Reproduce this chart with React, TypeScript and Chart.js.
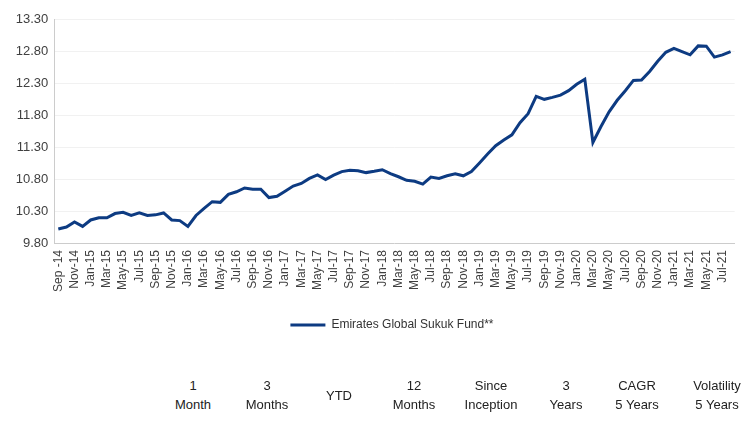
import React, { useEffect, useRef } from 'react';
import { Chart, registerables } from 'chart.js';

Chart.register(...registerables);

const months: string[] = [
  'Sep -14', 'Oct-14', 'Nov-14', 'Dec-14',
  'Jan-15', 'Feb-15', 'Mar-15', 'Apr-15', 'May-15', 'Jun-15', 'Jul-15', 'Aug-15', 'Sep-15', 'Oct-15', 'Nov-15', 'Dec-15',
  'Jan-16', 'Feb-16', 'Mar-16', 'Apr-16', 'May-16', 'Jun-16', 'Jul-16', 'Aug-16', 'Sep-16', 'Oct-16', 'Nov-16', 'Dec-16',
  'Jan-17', 'Feb-17', 'Mar-17', 'Apr-17', 'May-17', 'Jun-17', 'Jul-17', 'Aug-17', 'Sep-17', 'Oct-17', 'Nov-17', 'Dec-17',
  'Jan-18', 'Feb-18', 'Mar-18', 'Apr-18', 'May-18', 'Jun-18', 'Jul-18', 'Aug-18', 'Sep-18', 'Oct-18', 'Nov-18', 'Dec-18',
  'Jan-19', 'Feb-19', 'Mar-19', 'Apr-19', 'May-19', 'Jun-19', 'Jul-19', 'Aug-19', 'Sep-19', 'Oct-19', 'Nov-19', 'Dec-19',
  'Jan-20', 'Feb-20', 'Mar-20', 'Apr-20', 'May-20', 'Jun-20', 'Jul-20', 'Aug-20', 'Sep-20', 'Oct-20', 'Nov-20', 'Dec-20',
  'Jan-21', 'Feb-21', 'Mar-21', 'Apr-21', 'May-21', 'Jun-21', 'Jul-21', 'Aug-21',
];

const fundValues: number[] = [
  10.02, 10.05, 10.13, 10.06,
  10.16, 10.195, 10.195, 10.26, 10.28, 10.23, 10.27, 10.23, 10.24, 10.27, 10.16, 10.15,
  10.06, 10.23, 10.34, 10.445, 10.435, 10.56, 10.6, 10.66, 10.64, 10.64, 10.51, 10.53,
  10.61, 10.69, 10.73, 10.81, 10.865, 10.79, 10.86, 10.915, 10.935, 10.93, 10.9, 10.92,
  10.945, 10.885, 10.835, 10.78, 10.765, 10.72, 10.83, 10.81, 10.85, 10.88, 10.85, 10.915,
  11.05, 11.19, 11.32, 11.41, 11.49, 11.68, 11.82, 12.09, 12.045, 12.075, 12.11, 12.18,
  12.28, 12.36, 11.37, 11.62, 11.85, 12.03, 12.18, 12.34, 12.345, 12.48, 12.64, 12.78,
  12.84, 12.79, 12.74, 12.88, 12.875, 12.705, 12.74, 12.79,
];

const seriesName = 'Emirates Global Sukuk Fund**';

const yMin = 9.8;
const yMax = 13.3;
const yStep = 0.5;

const tableHeaders: string[][] = [
  ['1', 'Month'],
  ['3', 'Months'],
  ['YTD'],
  ['12', 'Months'],
  ['Since', 'Inception'],
  ['3', 'Years'],
  ['CAGR', '5 Years'],
  ['Volatility', '5 Years'],
];

const colCenters = [193, 267, 339, 414, 491, 566, 637, 717];

const LINE = '#0d3b82';
const FONT = '"Liberation Sans", Arial, Helvetica, sans-serif';

// shift the legend so it is centred under the plot area, as in the reference
const legendShift = {
  id: 'legendShift',
  afterLayout(chart: any) {
    const lg = chart.legend;
    if (!lg) return;
    const area = chart.chartArea;
    const full = (lg.left + lg.right) / 2;
    const target = (area.left + area.right) / 2 - 2.5;
    const dx = target - full;
    lg.left += dx;
    lg.right += dx;
  },
};

export default function App() {
  const ref = useRef<HTMLCanvasElement>(null);

  useEffect(() => {
    const canvas = ref.current;
    if (!canvas) return;
    Chart.defaults.font.family = FONT;
    const chart = new Chart(canvas, {
      type: 'line',
      data: {
        labels: months,
        datasets: [
          {
            label: seriesName,
            data: fundValues,
            borderColor: LINE,
            backgroundColor: LINE,
            borderWidth: 3,
            pointRadius: 0,
            pointHoverRadius: 0,
            tension: 0,
            fill: false,
          },
        ],
      },
      options: {
        responsive: false,
        animation: false,
        layout: { padding: { left: 0, right: 19.35, top: 19, bottom: 0 } },
        plugins: {
          legend: {
            position: 'bottom',
            labels: {
              usePointStyle: true,
              pointStyle: 'line',
              pointStyleWidth: 35,
              color: '#333333',
              font: { size: 12, family: FONT },
              padding: 10,
            },
          },
          tooltip: { enabled: false },
        },
        scales: {
          x: {
            type: 'category',
            offset: true,
            grid: { display: false, drawTicks: false },
            border: { display: true, color: '#cccccc' },
            ticks: {
              autoSkip: false,
              maxRotation: 90,
              minRotation: 90,
              padding: 7,
              color: '#404040',
              font: { size: 12, family: FONT },
              callback: (_v: any, i: number) => (i % 2 === 0 ? months[i] : ''),
            },
            afterFit: (s: any) => {
              s.height = 66;
            },
          },
          y: {
            min: yMin,
            max: yMax,
            ticks: {
              stepSize: yStep,
              padding: 6,
              color: '#404040',
              font: { size: 13, family: FONT },
              callback: (v: any) => Number(v).toFixed(2),
            },
            grid: {
              color: (c: any) => (c.index === 0 ? 'rgba(0,0,0,0)' : '#f1f1f1'),
              drawTicks: false,
            },
            border: { color: '#cccccc' },
            afterFit: (s: any) => {
              s.width = 54.25;
            },
          },
        },
      },
      plugins: [legendShift],
    } as any);
    return () => chart.destroy();
  }, []);

  return (
    <div
      style={{
        position: 'fixed',
        left: 0,
        top: 0,
        width: 754,
        height: 430,
        background: '#ffffff',
        fontFamily: FONT,
      }}
    >
      <canvas ref={ref} width={754} height={341} style={{ position: 'absolute', left: 0, top: 0 }} />
      {tableHeaders.map((lines, i) => (
        <div
          key={i}
          style={{
            position: 'absolute',
            left: colCenters[i] - 50,
            width: 100,
            top: lines.length === 1 ? 385.5 : 376,
            textAlign: 'center',
            fontSize: 13,
            lineHeight: '19px',
            color: '#222222',
          }}
        >
          {lines.map((l, j) => (
            <div key={j}>{l}</div>
          ))}
        </div>
      ))}
    </div>
  );
}
